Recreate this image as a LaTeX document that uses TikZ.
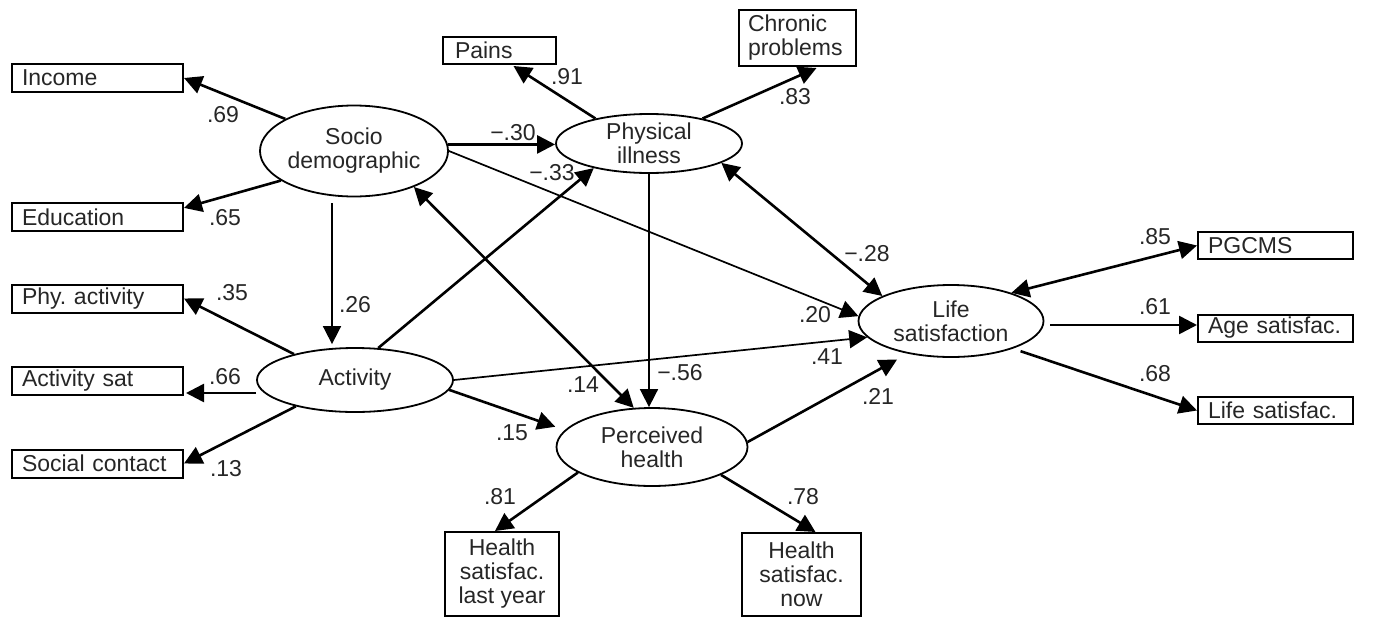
\documentclass[tikz,border=0pt]{standalone}
\usepackage{fontspec}
\setmainfont{Liberation Sans}
\usetikzlibrary{arrows.meta,shapes.geometric,calc}
\frenchspacing
\begin{document}
\begin{tikzpicture}[x=0.5pt,y=-0.5pt,
  font=\fontsize{11.5}{12}\selectfont,
  every node/.style={text=black!85},
  box/.style={draw=black, rectangle, line width=1pt, inner ysep=0pt, align=left},
  lbox/.style={box, minimum height=14pt, text width=75.5pt, inner xsep=5pt},
  rbox/.style={box, minimum height=13.5pt, text width=67.5pt, inner xsep=5pt},
  cbox/.style={draw=black, rectangle, line width=1pt, inner sep=0pt, align=center},
  lat/.style={draw=black, ellipse, line width=0.9pt, inner sep=0pt, align=center},
  arr/.style={-{Triangle[length=9pt,width=9pt]}, line width=1.3pt},
  thinarr/.style={-{Triangle[length=9pt,width=9pt]}, line width=0.85pt},
  darr/.style={{Triangle[length=9pt,width=9pt]}-{Triangle[length=9pt,width=9pt]}, line width=1.3pt},
  lbl/.style={inner sep=0pt}
]
\useasboundingbox (0,0) rectangle (1380,621);

% observed variables
\node[lbox] (income) at (97.5,78) {Income};
\node[lbox] (education) at (97.5,217) {Education};
\node[lbox] (phyact) at (97.5,298.5) {Phy. activity};
\node[lbox] (actsat) at (97.5,380.5) {Activity sat};
\node[lbox] (social) at (97.5,463.5) {Social contact};
\node[box, minimum height=13.5pt, text width=44.5pt, inner xsep=6pt] (pains) at (499.5,50.5) {Pains};
\node[box, minimum height=28pt, text width=49.5pt, inner xsep=4.5pt] (chronic) at (797.5,38) {Chronic\\problems};
\node[rbox] (pgcms) at (1275.5,245.5) {PGCMS};
\node[rbox] (agesat) at (1275.5,328) {Age satisfac.};
\node[rbox] (lsbox) at (1275.5,410.5) {Life satisfac.};
\node[cbox, minimum width=57pt, minimum height=42pt] (hlast) at (502,574) {Health\\satisfac.\\last year};
\node[cbox, minimum width=59.5pt, minimum height=41.5pt] (hnow) at (801.5,574.5) {Health\\satisfac.\\now};

% latent variables
\node[lat, minimum width=94pt, minimum height=45.5pt] (socio) at (354,151) {Socio\\demographic};
\node[lat, minimum width=93pt, minimum height=29.5pt] (phys) at (649,143.5) {Physical\\illness};
\node[lat, minimum width=98pt, minimum height=32pt] (activity) at (355,380) {Activity};
\node[lat, minimum width=95.5pt, minimum height=39pt] (perceived) at (652,447) {Perceived\\health};
\node[lat, minimum width=92.5pt, minimum height=36pt] (lifesat) at (951,321) {Life\\satisfaction};

% connectors
\draw[arr] (socio.155) -- (income.east);
\draw[arr] (socio.202) -- (education.6);
\draw[arr] (socio.4) -- (socio.4 -| phys.west);
\draw[thinarr] ($(socio.south)+(-22,6)$) -- ($(activity.north)+(-23,-3)$);
\draw[thinarr] (socio.east) -- (lifesat.177);
\draw[darr] (socio.-31) -- (perceived.115);
\draw[arr] (activity.54) -- (phys.204);
\draw[thinarr] (phys.south) -- (phys.south |- perceived.north);
\draw[darr] (phys.-15) -- (lifesat.160);
\draw[arr] (phys.155) -- ($(pains.south)+(14,1)$);
\draw[arr] (phys.25) -- ($(chronic.south)+(19,1)$);
\draw[arr] (activity.157) -- (phyact.east);
\draw[arr] ($(activity.west)+(0,13)$) -- ($(actsat.east)+(2,12.5)$);
\draw[arr] (activity.204) -- (social.east);
\draw[thinarr] (activity.east) -- (lifesat.191);
\draw[arr, shorten >=5pt] (activity.-6) -- (perceived.169);
\draw[arr, shorten >=6pt] (perceived.3) -- (lifesat.217);
\draw[arr] (perceived.199) -- ($(hlast.north)+(-7,0)$);
\draw[arr] (perceived.-22) -- ($(hnow.north)+(14,0)$);
\draw[darr] (lifesat.25) -- (pgcms.west);
\draw[arr] ($(lifesat.east)+(6,4)$) -- ($(agesat.west)+(0,-3)$);
\draw[arr, shorten <=4pt] (lifesat.-24) -- (lsbox.west);

% coefficient labels
\node[lbl] (l69) at (223,115) {.69};
\node[lbl] (l65) at (225,218) {.65};
\node[lbl] (l30) at (513,133) {−.30};
\node[lbl] (l33) at (552,173) {−.33};
\node[lbl] (l91) at (567,77) {.91};
\node[lbl] (l83) at (795,97) {.83};
\node[lbl] (l26) at (355,305) {.26};
\node[lbl] (l35) at (232,293) {.35};
\node[lbl] (l66) at (225,377) {.66};
\node[lbl] (l13) at (226,469) {.13};
\node[lbl] (l28) at (867,254) {−.28};
\node[lbl] (l20) at (815,315) {.20};
\node[lbl] (l41) at (827,357) {.41};
\node[lbl] (l21) at (878,396) {.21};
\node[lbl] (l85) at (1155,237) {.85};
\node[lbl] (l61) at (1155,307) {.61};
\node[lbl] (l68) at (1155,374) {.68};
\node[lbl] (l14) at (583,385) {.14};
\node[lbl] (l56) at (680,373) {−.56};
\node[lbl] (l15) at (512,433) {.15};
\node[lbl] (l81) at (500,497) {.81};
\node[lbl] (l78) at (803,497) {.78};
\end{tikzpicture}
\end{document}
